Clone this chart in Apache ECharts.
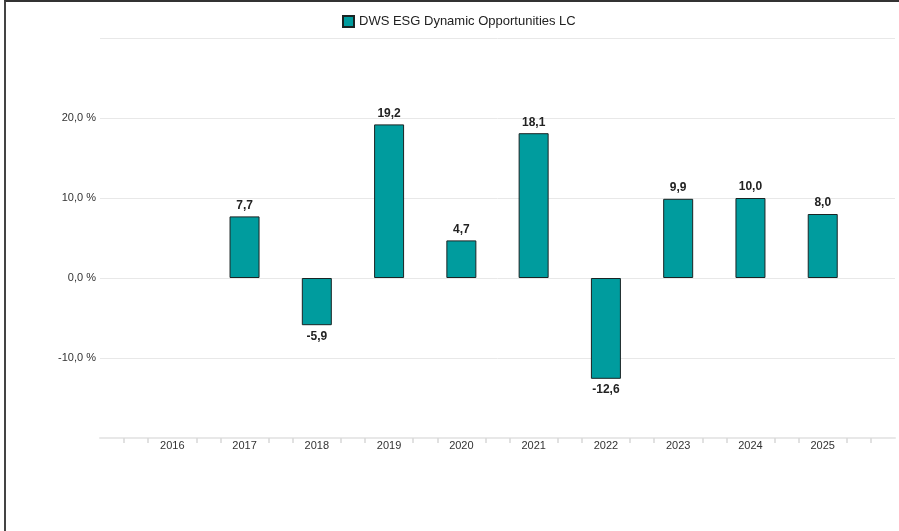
<!DOCTYPE html>
<html>
<head>
<meta charset="utf-8">
<script src="https://cdn.jsdelivr.net/npm/echarts@6/dist/echarts.min.js"></script>
<style>
  html, body { margin: 0; padding: 0; background: #fff; }
  #chart { position: absolute; left: 0; top: 0; width: 899px; height: 531px; }
  #frame { position: absolute; left: 4px; top: 0; width: 895px; height: 531px;
           border-top: 2px solid #333; border-left: 2px solid #444; box-sizing: border-box; pointer-events: none; }
</style>
</head>
<body>
<div id="chart"></div>
<div id="frame"></div>
<script>
// Jahreswerte (Performance in %)
const seriesName = 'DWS ESG Dynamic Opportunities LC';
const years = [2016, 2017, 2018, 2019, 2020, 2021, 2022, 2023, 2024, 2025];
const values = [null, 7.7, -5.9, 19.2, 4.7, 18.1, -12.6, 9.9, 10.0, 8.0];
const yTicks = [-20, -10, 0, 10, 20, 30];
const shownYTicks = [-10, 0, 10, 20];

const fmt = v => v.toFixed(1).replace('.', ',');
const font = '"Liberation Sans", Arial, sans-serif';

const chart = echarts.init(document.getElementById('chart'));

const barData = years.map((y, i) => ({
    value: [y, values[i]],
    label: { position: values[i] < 0 ? 'bottom' : 'top' }
})).filter(d => d.value[1] !== null);

chart.setOption({
    animation: false,
    textStyle: { fontFamily: font },
    legend: {
        top: 10,
        left: 337,
        itemWidth: 11,
        itemHeight: 11,
        itemGap: 6,
        icon: 'rect',
        textStyle: { fontSize: 13, color: '#222', fontFamily: font },
        data: [seriesName]
    },
    grid: { left: 100, right: 4, top: 38, bottom: 93, containLabel: false },
    xAxis: {
        type: 'value',
        min: 2015,
        max: 2026,
        interval: 1,
        splitLine: { show: false },
        axisLine: { show: true, onZero: false, lineStyle: { color: '#e8e8e8', width: 2 } },
        axisTick: { show: false },
        minorTick: { show: true, splitNumber: 3, length: 5, lineStyle: { color: '#d8d8d8', width: 1.5 } },
        axisLabel: {
            margin: 2,
            fontSize: 11,
            color: '#333',
            fontFamily: font,
            formatter: v => (years.indexOf(v) >= 0 ? String(v) : '')
        }
    },
    yAxis: {
        type: 'value',
        min: yTicks[0],
        max: yTicks[yTicks.length - 1],
        interval: 10,
        axisLine: { show: false },
        axisTick: { show: false },
        splitLine: { lineStyle: { color: '#e8e8e8', width: 1 } },
        axisLabel: {
            margin: 4,
            fontSize: 11,
            color: '#333',
            fontFamily: font,
            formatter: v => (shownYTicks.indexOf(v) >= 0 ? fmt(v) + ' %' : '')
        }
    },
    series: [{
        name: seriesName,
        type: 'bar',
        barWidth: 30,
        data: barData,
        itemStyle: { color: '#009c9e', borderColor: '#1a2424', borderWidth: 1 },
        label: {
            show: true,
            distance: 5,
            fontSize: 12,
            fontWeight: 'bold',
            color: '#222',
            fontFamily: font,
            formatter: p => fmt(p.value[1])
        }
    }]
});
</script>
</body>
</html>
